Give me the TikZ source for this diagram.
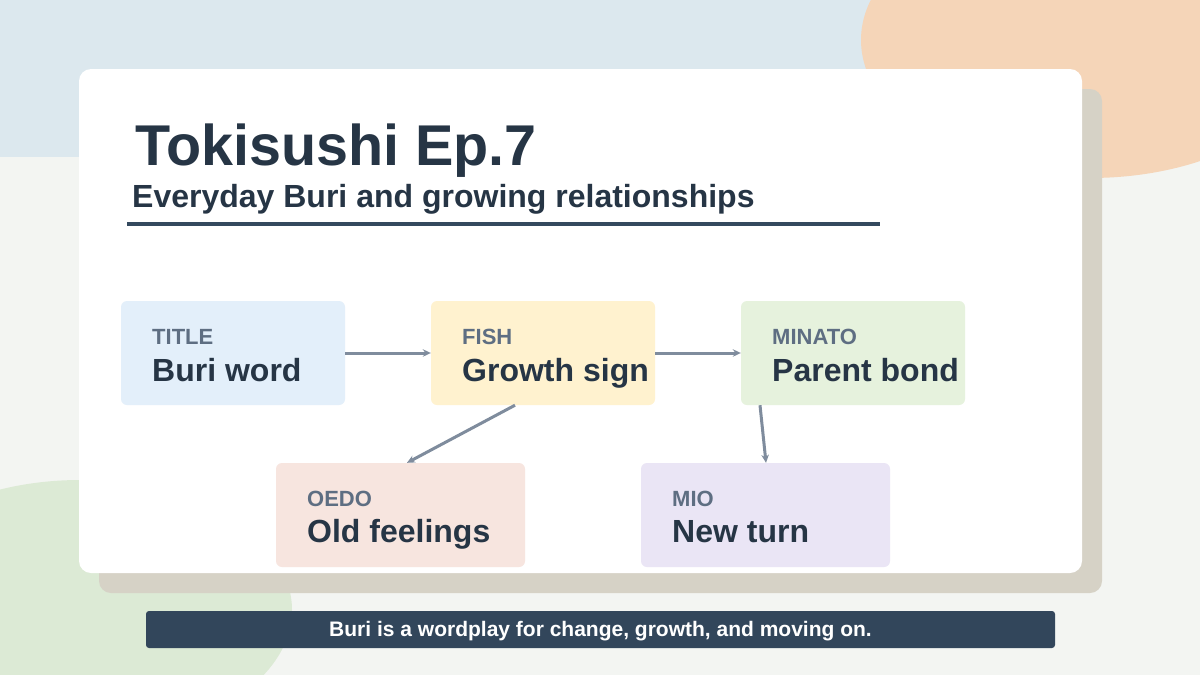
\documentclass[tikz,border=0pt]{standalone}
\usepackage{fontspec}
\setmainfont{Liberation Sans}
\usetikzlibrary{arrows.meta,calc}
\definecolor{bgtop}{HTML}{DCE8EE}
\definecolor{bgmain}{HTML}{F3F5F2}
\definecolor{peach}{HTML}{F5D5B8}
\definecolor{sage}{HTML}{DCEAD5}
\definecolor{shadowc}{HTML}{D6D2C6}
\definecolor{ink}{HTML}{263545}
\definecolor{labelc}{HTML}{5E6E82}
\definecolor{rulec}{HTML}{34495E}
\definecolor{arrowc}{HTML}{7F8C9D}
\definecolor{footc}{HTML}{32465B}
\definecolor{fblue}{HTML}{E3EFFA}
\definecolor{fyellow}{HTML}{FFF2CF}
\definecolor{fgreen}{HTML}{E6F2DD}
\definecolor{fpink}{HTML}{F7E5DF}
\definecolor{fviolet}{HTML}{EAE5F5}
\tikzset{
  box/.style={rectangle, rounded corners=6pt, draw=none, minimum width=224pt, minimum height=104pt, inner sep=0pt},
  widebox/.style={box, minimum width=249pt},
  tag/.style={anchor=base west, inner sep=0pt, text=labelc, font=\bfseries\fontsize{22}{22}\selectfont},
  main/.style={anchor=base west, inner sep=0pt, text=ink, font=\bfseries\fontsize{32}{32}\selectfont},
  link/.style={draw=arrowc, line width=3pt, -{Stealth[length=8pt,width=7.5pt]}}
}
\begin{document}
\begin{tikzpicture}[x=1pt,y=-1pt]
\useasboundingbox (0,0) rectangle (1200,675);
% background
\fill[bgmain] (0,0) rectangle (1200,675);
\fill[bgtop] (0,0) rectangle (1200,157);
\fill[peach] (1090,40) ellipse [x radius=229, y radius=138];
\fill[sage] (80,610) ellipse [x radius=212, y radius=130];
% card
\fill[shadowc, rounded corners=12pt] (99,89) rectangle (1102,593);
\fill[white, rounded corners=12pt] (79,69) rectangle (1082,573);
% title
\node[anchor=base west, inner sep=0pt, text=ink, font=\bfseries\fontsize{57.5}{57.5}\selectfont] (title) at (135,165) {Tokisushi Ep.7};
\node[anchor=base west, inner sep=0pt, text=ink, font=\bfseries\fontsize{32}{32}\selectfont] (subtitle) at (132,207) {Everyday Buri and growing relationships};
\draw[rulec, line width=4pt] (127,224) -- (880,224);
% boxes
\node[box, fill=fblue] (buri) at (233,353) {};
\node[box, fill=fyellow] (fish) at (543,353) {};
\node[box, fill=fgreen] (minato) at (853,353) {};
\node[widebox, fill=fpink] (oedo) at (400.5,515) {};
\node[widebox, fill=fviolet] (mio) at (765.5,515) {};
\node[tag] (t1) at (152,344) {TITLE};
\node[main] (m1) at (152,381) {Buri word};
\node[tag] (t2) at (462,344) {FISH};
\node[main] (m2) at (462,381) {Growth sign};
\node[tag] (t3) at (772,344) {MINATO};
\node[main] (m3) at (772,381) {Parent bond};
\node[tag] (t4) at (307,506) {OEDO};
\node[main] (m4) at (307,542) {Old feelings};
\node[tag] (t5) at (672,506) {MIO};
\node[main] (m5) at (672,542) {New turn};
% connectors
\draw[link] (buri.east) -- (fish.west);
\draw[link] (fish.east) -- (minato.west);
\draw[link] ([xshift=-28pt]fish.south) -- ([xshift=6.5pt]oedo.north);
\draw[link] ([xshift=-93pt]minato.south) -- ([xshift=0.5pt]mio.north);
% footer
\node[rectangle, rounded corners=3pt, fill=footc, minimum width=909pt, minimum height=37pt, inner sep=0pt] (foot) at (600.5,629.5) {};
\node[anchor=base, text=white, font=\bfseries\fontsize{21}{21}\selectfont, inner sep=0pt] (foottext) at (600.5,636.5) {Buri is a wordplay for change, growth, and moving on.};
\end{tikzpicture}
\end{document}
